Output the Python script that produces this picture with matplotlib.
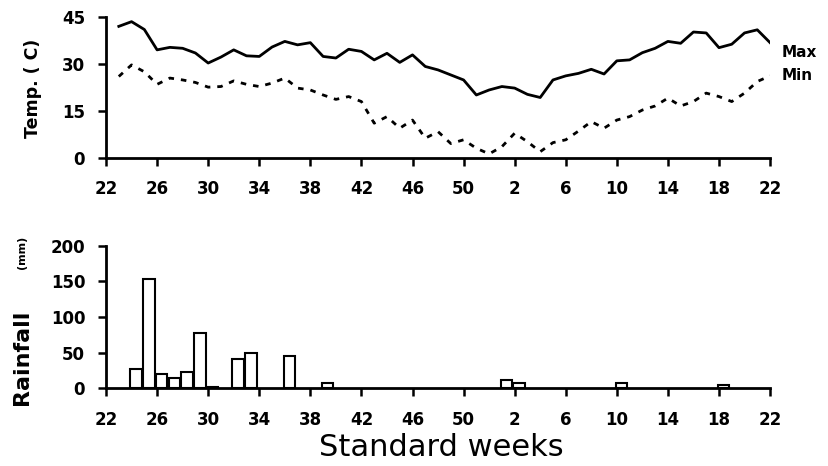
import matplotlib.pyplot as plt
import numpy as np

plt.rcParams['font.family'] = ['DejaVu Sans']
plt.rcParams['font.weight'] = 'bold'

# standard weeks, June to June
weeks = list(range(22, 53)) + list(range(1, 23))
tick_weeks = weeks[::4]

# weekly temperatures, weeks 23..52, 1..22
max_temp = [42, 43.5, 41, 34.5, 35.3, 35, 33.5, 30.3, 32.2, 34.5,
            32.6, 32.4, 35.4, 37.2, 36.1, 36.8, 32.4, 31.9, 34.7, 34,
            31.3, 33.4, 30.5, 32.9, 29.2, 28.1, 26.5, 24.9, 20.1, 21.7,
            22.8, 22.3, 20.3, 19.3, 24.9, 26.2, 27, 28.3, 26.8, 31,
            31.3, 33.6, 35, 37.2, 36.6, 40.2, 39.9, 35.2, 36.3, 39.9,
            40.9, 36.8]
min_temp = [26, 29.7, 27.5, 23.5, 25.5, 24.9, 24.1, 22.6, 22.8, 24.6,
            23.5, 22.8, 23.9, 25.5, 22.3, 21.7, 20.1, 18.7, 19.6, 18,
            11.1, 13.2, 9.5, 12.1, 6.3, 8.4, 4.6, 5.8, 3.1, 1.3,
            3.6, 7.9, 5.2, 2, 4.9, 5.8, 8.6, 11.6, 9.5, 12.1,
            13.2, 15.3, 16.6, 19.1, 16.6, 18, 20.7, 19.6, 18, 20.7,
            24.4, 26.2]

# weekly rainfall (mm), weeks without rain left out
rain_weeks = [24, 25, 26, 27, 28, 29, 30, 32, 33, 36, 39, 1, 2, 10, 18]
rain_mm = [27, 153, 20, 15, 23, 78, 2, 41, 49, 45, 8, 11, 7, 7, 5]

x_temp = np.arange(1, len(max_temp) + 1)
x_rain = np.array([weeks.index(w) for w in rain_weeks])
tick_pos = np.arange(0, len(weeks), 4)

fig = plt.figure(figsize=(8.29, 4.66), dpi=100)
ax1 = fig.add_axes([0.1279, 0.661, 0.801, 0.3026])
ax2 = fig.add_axes([0.1279, 0.1667, 0.801, 0.306])

ax1.plot(x_temp, max_temp, color='black', lw=2)
ax1.plot(x_temp, min_temp, color='black', lw=2, linestyle=(0, (2, 2.5)))
ax1.text(x_temp[-1] + 0.9, max_temp[-1] - 3, 'Max', fontsize=11, va='center')
ax1.text(x_temp[-1] + 0.9, min_temp[-1], 'Min', fontsize=11, va='center')
ax1.set_ylim(0, 45)
ax1.set_yticks([0, 15, 30, 45])

ax2.bar(x_rain - 0.1, rain_mm, width=0.9, align='edge',
        facecolor='white', edgecolor='black', lw=1.5)
ax2.set_ylim(0, 200)
ax2.set_yticks([0, 50, 100, 150, 200])

for ax in (ax1, ax2):
    ax.set_xlim(0, len(weeks) - 1)
    ax.set_xticks(tick_pos)
    ax.set_xticklabels(tick_weeks)
    for s in ('top', 'right'):
        ax.spines[s].set_visible(False)
    for s in ('left', 'bottom'):
        ax.spines[s].set_linewidth(2)
    ax.tick_params(axis='x', direction='out', length=6, width=1.8,
                   labelsize=12, pad=10)
    ax.tick_params(axis='y', direction='out', length=6, width=1.8,
                   labelsize=12, pad=9)

fig.text(0.040, 0.811, 'Temp. ( C)', rotation=90, fontsize=12.5,
         ha='center', va='center')
fig.text(0.026, 0.234, 'Rainfall', rotation=90, fontsize=16,
         ha='center', va='center')
fig.text(0.026, 0.459, '(mm)', rotation=90, fontsize=8,
         ha='center', va='center')
fig.text(0.532, 0.039, 'Standard weeks', fontsize=22, fontweight='normal',
         ha='center', va='center')

fig.savefig('out.png', dpi=100)
